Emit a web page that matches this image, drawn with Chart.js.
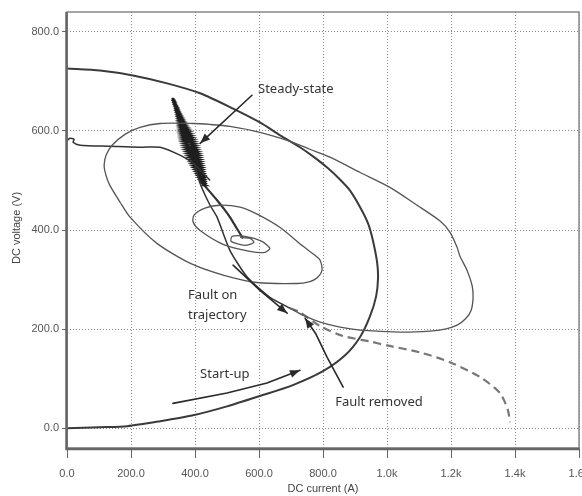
<!DOCTYPE html>
<html>
<head>
<meta charset="utf-8">
<script src="https://cdn.jsdelivr.net/npm/chart.js@4.4.0/dist/chart.umd.min.js"></script>
<style>
html, body { margin: 0; padding: 0; background: #fff; }
</style>
</head>
<body>
<canvas id="grafico" width="582" height="496"></canvas>
<script>
// assi
const xTicks = [0, 200, 400, 600, 800, 1000, 1200, 1400, 1600];
const xTickLabels = ['0.0', '200.0', '400.0', '600.0', '800.0', '1.0k', '1.2k', '1.4k', '1.6k'];
const yTicks = [0, 200, 400, 600, 800];
const yTickLabels = ['0.0', '200.0', '400.0', '600.0', '800.0'];

// avvio + anello esterno (DC current A, DC voltage V)
const curvaAvvio = [[0,0],[103,2],[188,4],[291,14],[394,26],[500,44],[603,65],[706,87],[800,115],[869,147],[916,184],[947,226],[966,266],[972,303],[969,335],[956,379],[941,413],[916,446],[884,480],[850,504],[813,526],[772,547],[728,567],[666,591],[603,617],[519,645],[416,676],[313,696],[206,712],[103,722],[0,726]];

// traccia da sinistra verso lo stato stazionario
const curvaIniziale = [[0,580],[9,585],[22,583],[19,577],[41,571],[134,569],[228,567],[291,567],[353,551],[394,535],[425,515],[447,500]];

// stato stazionario (oscillazione)
const statoStazionario = [
  [327,666],[337,662],[331,658],[342,654],[335,650],[348,646],[338,642],[353,638],[342,634],[359,630],[345,626],[365,622],[348,618],[371,614],[350,610],[378,606],[353,602],[384,598],[356,594],[390,590],[359,586],[396,582],[363,578],[401,574],[367,570],[405,566],[371,562],[410,558],[376,554],[414,550],[381,546],[417,542],[387,538],[420,534],[393,530],[424,526],[399,522],[426,518],[405,514],[430,510],[411,506],[432,502],[418,498],[434,494],[425,490],
  [435,490],[421,494],[433,498],[414,502],[431,506],[408,510],[428,514],[402,518],[425,522],[396,526],[422,530],[390,534],[419,538],[384,542],[415,546],[379,550],[412,554],[374,558],[407,562],[369,566],[403,570],[365,574],[398,578],[361,582],[393,586],[358,590],[387,594],[354,598],[381,602],[352,606],[374,610],[349,614],[368,618],[346,622],[362,626],[343,630],[356,634],[340,638],[350,642],[337,646],[345,650],[333,654],[340,658],[329,662],[335,666]
];

// tratto verso la piccola spirale
const trattoSpirale = [[416,500],[440,482],[469,460],[490,443],[509,426],[530,404],[550,383]];

// guasto (tratto continuo)
const curvaGuasto = [[400,530],[416,494],[447,450],[469,426],[509,359],[563,305],[634,264],[697,242]];

// guasto non rimosso (tratteggio)
const curvaGuastoPersistente = [[697,242],[728,234],[791,206],[863,186],[947,175],[1000,167],[1103,153],[1197,133],[1291,103],[1353,71],[1378,36],[1384,12]];

// dopo la rimozione del guasto
const curvaDopoGuasto = [[697,242],[744,226],[791,214],[853,204],[916,198],[1041,194],[1134,196],[1181,200],[1219,208],[1247,222],[1263,238],[1269,264],[1266,288],[1250,319],[1228,347],[1219,365],[1197,395],[1166,418],[1094,450],[1009,486],[916,516],[822,547],[759,563],[706,577],[603,597],[509,609],[447,613],[394,615],[291,615],[228,607],[181,593],[141,571],[122,551],[116,530],[122,510],[134,490],[166,456],[197,426],[281,373],[384,333],[488,309],[594,294],[719,292],[759,296],[781,303],[797,319],[791,339],[775,349],[738,367],[666,405],[594,432],[541,446],[478,450],[431,444],[397,430],[394,416],[416,399],[488,371],[572,357],[619,355],[634,363],[609,377],[556,387],[516,387],[513,377],[556,369],[584,375],[572,383],[541,385]];

// annotazioni
const frecciaStazionario = [[578,672],[416,575]];
const frecciaGuasto = [[519,329],[603,278],[688,232]];
const frecciaAvvio = [[331,50],[500,71],[625,91],[728,117]];
const frecciaRimosso = [[863,83],[813,143],[778,190],[744,222]];
const etichette = [
    {testo: 'Steady-state', x: 597, y: 684},
    {testo: 'Fault on', x: 378, y: 268},
    {testo: 'trajectory', x: 378, y: 228},
    {testo: 'Start-up', x: 416, y: 109},
    {testo: 'Fault removed', x: 838, y: 52}
];

function punti(lista) {
    return lista.map(p => ({x: p[0], y: p[1]}));
}

function serie(lista, colore, spessore, tensione, tratteggio) {
    return {
        data: punti(lista),
        showLine: true,
        borderColor: colore,
        borderWidth: spessore,
        pointRadius: 0,
        tension: tensione,
        borderDash: tratteggio || [],
        fill: false
    };
}

function disegnaFreccia(ctx, sx, sy, lista) {
    const pts = lista.map(p => [sx.getPixelForValue(p[0]), sy.getPixelForValue(p[1])]);
    ctx.beginPath();
    ctx.moveTo(pts[0][0], pts[0][1]);
    for (let i = 1; i < pts.length; i++) ctx.lineTo(pts[i][0], pts[i][1]);
    ctx.stroke();
    const a = pts[pts.length - 2], b = pts[pts.length - 1];
    const ang = Math.atan2(b[1] - a[1], b[0] - a[0]);
    ctx.beginPath();
    ctx.moveTo(b[0], b[1]);
    ctx.lineTo(b[0] - 10 * Math.cos(ang) + 4 * Math.sin(ang), b[1] - 10 * Math.sin(ang) - 4 * Math.cos(ang));
    ctx.lineTo(b[0] - 10 * Math.cos(ang) - 4 * Math.sin(ang), b[1] - 10 * Math.sin(ang) + 4 * Math.cos(ang));
    ctx.closePath();
    ctx.fill();
}

const cornice = {
    id: 'cornice',
    afterDraw(chart) {
        const ctx = chart.ctx;
        const area = chart.chartArea;
        const sx = chart.scales.x, sy = chart.scales.y;
        ctx.save();
        // bordo del grafico
        ctx.strokeStyle = '#888';
        ctx.lineWidth = 1.5;
        ctx.strokeRect(area.left, area.top, area.right - area.left, area.bottom - area.top);
        ctx.strokeStyle = '#666';
        ctx.lineWidth = 2.5;
        ctx.beginPath();
        ctx.moveTo(area.left - 0.5, area.top);
        ctx.lineTo(area.left - 0.5, area.bottom + 1);
        ctx.lineTo(area.right, area.bottom + 1);
        ctx.stroke();

        // frecce
        ctx.strokeStyle = '#2a2a2a';
        ctx.fillStyle = '#2a2a2a';
        ctx.lineWidth = 1.6;
        ctx.lineJoin = 'round';
        ctx.lineCap = 'round';
        disegnaFreccia(ctx, sx, sy, frecciaStazionario);
        disegnaFreccia(ctx, sx, sy, frecciaGuasto);
        disegnaFreccia(ctx, sx, sy, frecciaAvvio);
        disegnaFreccia(ctx, sx, sy, frecciaRimosso);

        // testi
        ctx.fillStyle = '#333';
        ctx.font = '13px "Noto Sans"';
        ctx.textBaseline = 'middle';
        ctx.textAlign = 'left';
        etichette.forEach(e => {
            ctx.fillText(e.testo, sx.getPixelForValue(e.x), sy.getPixelForValue(e.y));
        });

        // titoli degli assi
        ctx.fillStyle = '#444';
        ctx.font = '11px "Liberation Sans"';
        ctx.textAlign = 'center';
        ctx.fillText('DC current (A)', (area.left + area.right) / 2, 489);
        ctx.translate(17, (area.top + area.bottom) / 2 - 2);
        ctx.rotate(-Math.PI / 2);
        ctx.fillText('DC voltage (V)', 0, 0);
        ctx.restore();
    }
};

new Chart('grafico', {
    type: 'scatter',
    data: {
        datasets: [
            serie(curvaDopoGuasto, '#555', 1.3, 0.25),
            serie(curvaIniziale, '#333', 1.5, 0.25),
            serie(curvaGuastoPersistente, '#777', 2.2, 0.25, [8, 5]),
            serie(curvaGuasto, '#333', 1.5, 0.2),
            serie(curvaAvvio, '#3a3a3a', 2, 0.25),
            serie(statoStazionario, '#1e1e1e', 1.8, 0),
            serie(trattoSpirale, '#333', 2.2, 0.2)
        ]
    },
    options: {
        responsive: false,
        animation: false,
        devicePixelRatio: 1,
        layout: {padding: {top: 12, right: 3, left: 0, bottom: 0}},
        plugins: {
            legend: {display: false},
            tooltip: {enabled: false}
        },
        scales: {
            x: {
                type: 'linear',
                min: 0,
                max: 1600,
                afterBuildTicks: s => { s.ticks = xTicks.map(v => ({value: v})); },
                afterFit: s => { s.height = 48; s.paddingLeft = 0; s.paddingRight = 0; },
                ticks: {
                    callback: (v, i) => xTickLabels[i],
                    color: '#555',
                    font: {family: 'Liberation Sans', size: 11},
                    padding: 9,
                    maxRotation: 0,
                    autoSkip: false
                },
                grid: {color: '#8a8a8a', lineWidth: 1, tickLength: 10, tickColor: '#666', tickBorderDash: []},
                border: {display: false, dash: [1, 2]}
            },
            y: {
                type: 'linear',
                min: -40,
                max: 840,
                afterBuildTicks: s => { s.ticks = yTicks.map(v => ({value: v})); },
                afterFit: s => { s.width = 67; s.paddingTop = 0; s.paddingBottom = 0; },
                ticks: {
                    callback: (v, i) => yTickLabels[i],
                    color: '#555',
                    font: {family: 'Liberation Sans', size: 11},
                    padding: 3,
                    autoSkip: false
                },
                grid: {color: '#8a8a8a', lineWidth: 1, tickLength: 5, tickColor: '#666', tickBorderDash: []},
                border: {display: false, dash: [1, 2]}
            }
        }
    },
    plugins: [cornice]
});
</script>
</body>
</html>
